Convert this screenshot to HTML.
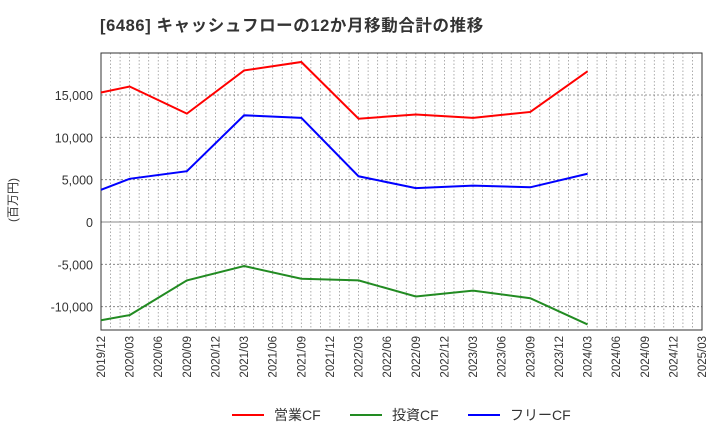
<!DOCTYPE html>
<html><head><meta charset="utf-8"><style>
body{margin:0;background:#fff;font-family:"Liberation Sans","Noto Sans CJK JP",sans-serif}
</style></head><body>
<svg id="c" width="720" height="440" xmlns="http://www.w3.org/2000/svg"></svg>
<script>
const xLabels=["2019/12","2020/03","2020/06","2020/09","2020/12","2021/03","2021/06","2021/09","2021/12","2022/03","2022/06","2022/09","2022/12","2023/03","2023/06","2023/09","2023/12","2024/03","2024/06","2024/09","2024/12","2025/03"];
const ptIdx=[0,1,3,5,7,9,11,13,15,17];
const opCF=[15300,16000,12800,17900,18900,12200,12700,12300,13000,17800];
const invCF=[-11600,-11000,-6900,-5200,-6700,-6900,-8800,-8100,-9000,-12100];
const freeCF=[3800,5100,6000,12600,12300,5400,4000,4300,4100,5700];
const yTicks=[-10000,-5000,0,5000,10000,15000];
const yTickLabels=["-10,000","-5,000","0","5,000","10,000","15,000"];
const NS="http://www.w3.org/2000/svg";
const svg=document.getElementById('c');
const L=101,R=702,T=53,B=330;
const step=(R-L)/21;
const xq=i=>L+i*step;
const y=v=>222-v*127/15000;
function mk(tag,attrs,parent){const e=document.createElementNS(NS,tag);for(const k in attrs)e.setAttribute(k,attrs[k]);(parent||svg).appendChild(e);return e;}
const t=mk('text',{x:100,y:31,'font-size':16.5,'font-weight':'bold',fill:'#333','letter-spacing':0.6});

t.textContent='[6486]  キャッシュフローの12か月移動合計の推移';
const grid=mk('g',{});
for(let m=0;m<=63;m++){const x=L+m*step/3;mk('line',{x1:x,x2:x,y1:T,y2:B,stroke:'#999','stroke-width':0.8,'stroke-dasharray':'1.5,2'},grid);}
yTicks.forEach((v,i)=>{mk('line',{x1:L,x2:R,y1:y(v),y2:y(v),stroke:v===0?'#888':'#777','stroke-width':v===0?1:0.8,'stroke-dasharray':v===0?'':'2,2'},grid);
const tl=mk('text',{x:93,y:y(v)+5,'text-anchor':'end','font-size':12.5,fill:'#333'});
tl.textContent=yTickLabels[i];});
const fr=mk('rect',{x:L,y:T,width:R-L,height:B-T,fill:'none',stroke:'#333','stroke-width':1});

xLabels.forEach((s,i)=>{const x=xq(i);const tl=mk('text',{x:0,y:0,'font-size':11.5,fill:'#333','text-anchor':'end',transform:`translate(${x+4},${B+6}) rotate(-90)`});
tl.textContent=s;});
const yt=mk('text',{x:0,y:0,'font-size':12,fill:'#333','text-anchor':'middle',transform:'translate(17,200) rotate(-90)'});
yt.textContent='(百万円)';
function series(d,col,name){const p=mk('polyline',{points:d.map((v,i)=>xq(ptIdx[i])+','+y(v)).join(' '),fill:'none',stroke:col,'stroke-width':2});
}
series(opCF,'#ff0000','operating-cf-line');series(invCF,'#228b22','investing-cf-line');series(freeCF,'#0000ff','free-cf-line');
const leg=[['営業CF','#ff0000',232],['投資CF','#228b22',350],['フリーCF','#0000ff',468]];
leg.forEach(([s,c,x])=>{const g=mk('g',{});
mk('line',{x1:x,x2:x+32,y1:415,y2:415,stroke:c,'stroke-width':2},g);
const tx=mk('text',{x:x+42,y:420,'font-size':14,fill:'#333'},g);tx.textContent=s;});
</script>
</body></html>
